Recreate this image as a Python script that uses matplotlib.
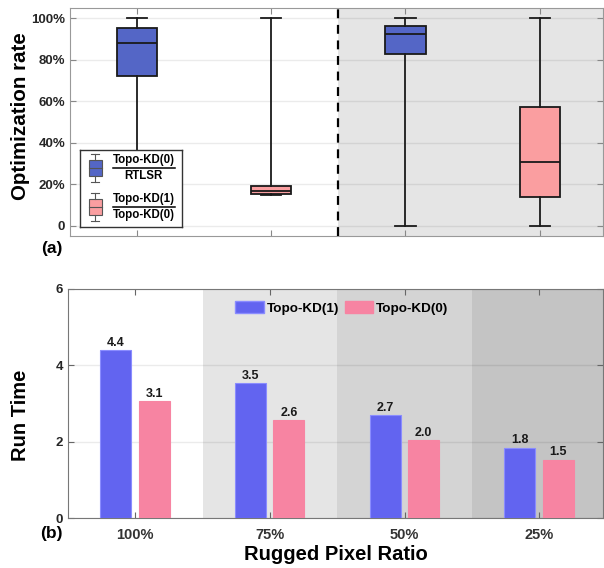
import matplotlib
matplotlib.use('Agg')
import matplotlib.pyplot as plt
from matplotlib.patches import Rectangle, Patch

plt.rcParams['font.family'] = ['Liberation Sans', 'DejaVu Sans']
plt.rcParams['font.weight'] = 'bold'

# (a) optimization rate boxes (percent)
box_pos = [1, 2, 3, 4]
box_whislo = [0, 15, 0, 0]
box_q1 = [72, 15.5, 82.6, 14]
box_med = [88, 16.6, 92.3, 30.6]
box_q3 = [95.3, 19, 96.5, 57.3]
box_whishi = [100, 100, 100, 100]
box_kind = ['blue', 'pink', 'blue', 'pink']
rate_ticks = [0, 20, 40, 60, 80, 100]
rate_labels = ['0', '20%', '40%', '60%', '80%', '100%']

# (b) run time bars
ratios = ['100%', '75%', '50%', '25%']
kd1 = [4.39, 3.53, 2.69, 1.84]
kd0 = [3.06, 2.56, 2.04, 1.53]
kd1_txt = ['4.4', '3.5', '2.7', '1.8']
kd0_txt = ['3.1', '2.6', '2.0', '1.5']

BLUE_BOX = '#5466c6'
PINK_BOX = '#fa9ea0'
BLUE_BAR = '#6264f0'
PINK_BAR = '#f784a2'
TICK_C = '#262626'

fig = plt.figure(figsize=(6.04, 5.68), dpi=100)
ax1 = fig.add_axes([0.1159, 0.5845, 0.882, 0.4014])
ax2 = fig.add_axes([0.1126, 0.088, 0.8854, 0.4032])

# ---- panel (a)
ax1.axvspan(2.5, 4.6, color='#e5e5e5', zorder=0, lw=0)
stats = []
for i in range(len(box_pos)):
    stats.append(dict(whislo=box_whislo[i], q1=box_q1[i], med=box_med[i],
                      q3=box_q3[i], whishi=box_whishi[i], fliers=[]))
bp = ax1.bxp(stats, positions=box_pos, widths=0.3, patch_artist=True,
             showfliers=False,
             boxprops=dict(linewidth=1.3, edgecolor='#1a1a1a'),
             medianprops=dict(color='#1a1a1a', linewidth=1.3),
             whiskerprops=dict(color='#1a1a1a', linewidth=1.3),
             capprops=dict(color='#1a1a1a', linewidth=1.3),
             capwidths=0.15, zorder=3)
for patch, k in zip(bp['boxes'], box_kind):
    patch.set_facecolor(BLUE_BOX if k == 'blue' else PINK_BOX)
ax1.axvline(2.5, color='black', lw=1.6, ls=(0, (4, 3)), zorder=4)
ax1.set_xlim(0.5, 4.47)
ax1.set_ylim(-5, 105)
ax1.set_xticks(box_pos)
ax1.set_xticklabels([])
ax1.set_yticks(rate_ticks)
ax1.set_yticklabels(rate_labels, fontsize=9.5, color=TICK_C)
ax1.grid(axis='y', color='black', alpha=0.08, lw=1)
ax1.set_axisbelow(True)
ax1.tick_params(direction='in', top=True, right=True, length=4, color='#888888')
for s in ax1.spines.values():
    s.set_color('#999999')
ax1.set_ylabel('Optimization rate', fontsize=14.8, fontweight='bold')
ax1.yaxis.set_label_coords(-0.075, 0.525)
fig.text(0.085, 0.563, '(a)', fontsize=12.5, fontweight='bold', ha='center', va='center')

# custom legend for the fractions
lg = ax1.inset_axes([0.019, 0.039, 0.191, 0.338], zorder=6)
lg.set_xlim(0, 1)
lg.set_ylim(0, 1)
lg.set_xticks([])
lg.set_yticks([])
lg.set_facecolor('white')
for s in lg.spines.values():
    s.set_color('#333333')
    s.set_linewidth(1)
entries = [(0.765, BLUE_BOX, 'Topo-KD(0)', 'RTLSR'),
           (0.26, PINK_BOX, 'Topo-KD(1)', 'Topo-KD(0)')]
for yc, col, num, den in entries:
    lg.add_patch(Rectangle((0.085, yc - 0.1), 0.13, 0.2, facecolor=col,
                           edgecolor='#555555', lw=0.8))
    lg.plot([0.085, 0.215], [yc, yc], color='#555555', lw=0.8)
    lg.plot([0.15, 0.15], [yc + 0.1, yc + 0.18], color='#555555', lw=0.8)
    lg.plot([0.15, 0.15], [yc - 0.1, yc - 0.18], color='#555555', lw=0.8)
    lg.plot([0.11, 0.19], [yc + 0.18, yc + 0.18], color='#555555', lw=0.8)
    lg.plot([0.11, 0.19], [yc - 0.18, yc - 0.18], color='#555555', lw=0.8)
    lg.plot([0.32, 0.93], [yc, yc], color='black', lw=1.1)
    lg.text(0.625, yc + 0.03, num, ha='center', va='bottom', fontsize=8.3, fontweight='bold')
    lg.text(0.625, yc - 0.03, den, ha='center', va='top', fontsize=8.3, fontweight='bold')

# ---- panel (b)
shades = ['#ffffff', '#e5e5e5', '#d4d4d4', '#c4c4c4']
for i, c in enumerate(shades):
    ax2.axvspan(i + 0.5, i + 1.5, color=c, zorder=0, lw=0)
x = list(range(1, len(ratios) + 1))
w = 0.23
b1 = ax2.bar([v - 0.145 for v in x], kd1, width=w, color=BLUE_BAR,
             edgecolor='#8a8cff', lw=0.8, label='Topo-KD(1)', zorder=3)
b0 = ax2.bar([v + 0.14 for v in x], kd0, width=w, color=PINK_BAR,
             edgecolor=PINK_BAR, lw=0.8, label='Topo-KD(0)', zorder=3)
ax2.bar_label(b1, labels=kd1_txt, padding=1, fontsize=9, fontweight='bold', color='#1a1a1a')
ax2.bar_label(b0, labels=kd0_txt, padding=1, fontsize=9, fontweight='bold', color='#1a1a1a')
ax2.set_xlim(0.5, 4.47)
ax2.set_ylim(0, 6)
ax2.set_yticks([0, 2, 4, 6])
ax2.set_yticklabels(['0', '2', '4', '6'], fontsize=9.5, color=TICK_C)
ax2.set_xticks(x)
ax2.set_xticklabels(ratios, fontsize=10.5, color='#333333')
ax2.tick_params(axis='x', pad=7)
ax2.grid(axis='y', color='black', alpha=0.08, lw=1)
ax2.set_axisbelow(True)
ax2.tick_params(direction='in', top=True, right=True, length=4, color='#666666')
for s in ax2.spines.values():
    s.set_color('#777777')
ax2.set_ylabel('Run Time', fontsize=14.5, fontweight='bold')
ax2.yaxis.set_label_coords(-0.072, 0.45)
ax2.set_xlabel('Rugged Pixel Ratio', fontsize=14.5, fontweight='bold', labelpad=2)
fig.text(0.085, 0.0616, '(b)', fontsize=12.5, fontweight='bold', ha='center', va='center')
ax2.legend(handles=[Patch(facecolor=BLUE_BAR, edgecolor='#8a8cff'),
                    Patch(facecolor=PINK_BAR, edgecolor=PINK_BAR)],
           labels=['Topo-KD(1)', 'Topo-KD(0)'], ncol=2, frameon=False,
           loc='upper left', bbox_to_anchor=(0.29, 1.0),
           handlelength=2.1, handleheight=1.0, handletextpad=0.25, columnspacing=0.4,
           prop=dict(weight='bold', size=9.7))

fig.savefig('out.png', dpi=100)
